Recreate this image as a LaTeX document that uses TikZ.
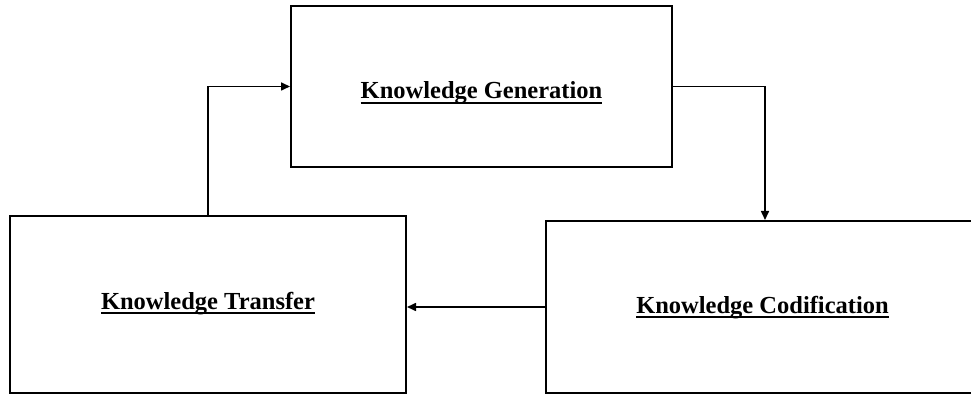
\documentclass[tikz,border=0pt]{standalone}
\usepackage{fontspec}
\setmainfont{Liberation Serif}
\usetikzlibrary{arrows.meta}

% underlined bold heading with a thick rule just below the baseline
\newcommand\headline[1]{\setbox0\hbox{\bfseries #1}\rlap{\rule[-5pt]{\wd0}{2pt}}\box0}

\tikzset{
  stage/.style={draw=black, line width=2pt, rectangle, inner sep=0pt},
  label/.style={anchor=base, inner sep=0pt, font=\fontsize{24.5}{28}\selectfont},
  flow/.style={line width=1.6pt, -{Triangle[length=9pt,width=8pt]}},
}

\begin{document}
\begin{tikzpicture}[x=1pt, y=-1pt]
  \useasboundingbox (0,0) rectangle (971,395);
  \clip (0,0) rectangle (971,395);

  % the three stages (the codification box runs off the right edge)
  \node[stage, minimum width=381pt, minimum height=161pt] (gen) at (481.5,86.5) {};
  \node[stage, minimum width=396pt, minimum height=177pt] (tra) at (208,304.5) {};
  \node[stage, minimum width=429pt, minimum height=172pt] (cod) at (760.5,307) {};

  % stage titles
  \node[label] (genlbl) at (481.5,99) {\headline{Knowledge Generation}};
  \node[label] (tralbl) at (208,309) {\headline{Knowledge Transfer}};
  \node[label] (codlbl) at (762.5,313) {\headline{Knowledge Codification}};

  % cycle connectors
  \coordinate (codin) at ([xshift=4.5pt]cod.north);
  \draw[flow] (tra.north) |- (gen.west);
  \draw[flow] (gen.east) -| (codin);
  \draw[flow] (cod.west) -- (cod.west -| tra.east);
\end{tikzpicture}
\end{document}
